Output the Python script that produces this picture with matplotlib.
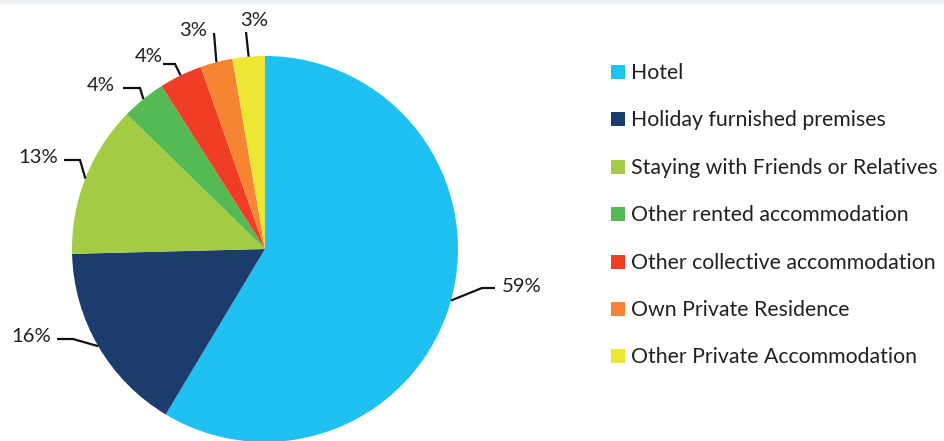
import matplotlib
matplotlib.use("Agg")
import matplotlib.pyplot as plt
from matplotlib.patches import Rectangle
import numpy as np

categories = ["Hotel", "Holiday furnished premises", "Staying with Friends or Relatives",
              "Other rented accommodation", "Other collective accommodation",
              "Own Private Residence", "Other Private Accommodation"]
values = [58.6, 16.0, 12.7, 3.7, 3.6, 2.7, 2.7]
pct_labels = ["59%", "16%", "13%", "4%", "4%", "3%", "3%"]
colors = ["#1EC1F1", "#1B3C6D", "#A3CB44", "#55BA53", "#EF3E25", "#F58532", "#ECE634"]

W, H = 944, 441
FONT = "Lato"
TXT = "#231F20"
FS = 15.3
FS_PCT = 14.6

fig = plt.figure(figsize=(W / 100, H / 100), dpi=100)
ax = fig.add_axes([0, 0, 1, 1])

def py(y):
    return H - y

cx, cy, r = 265, py(249), 193
wedges, _ = ax.pie(values, colors=colors, startangle=90, counterclock=False,
                   center=(cx, cy), radius=r, wedgeprops=dict(linewidth=0))
ax.set_xlim(0, W)
ax.set_ylim(0, H)
ax.set_aspect("equal")
ax.axis("off")

# top light band
fig.patches.append(Rectangle((0, 1 - 3 / H), 1, 3 / H, transform=fig.transFigure,
                             color="#EEF2F5", zorder=0))

# label layout: text x, baseline y (px from top), ha, stub start, elbow
layout = [
    (502, 292, "left",  (495, 288), (482, 288)),
    (51, 342, "right",  (57, 339), (73, 339)),
    (58, 163, "right",  (64, 160), (80, 160)),
    (115, 91, "right",  (123, 88), (140, 88)),
    (163, 62.5, "right", (163, 64), (175, 64)),
    (193, 35.5, "center", (214, 33), (214, 33)),
    (254, 25.5, "center", (246, 32), (246, 32)),
]

for w, lab, (tx, ty, ha, s, e) in zip(wedges, pct_labels, layout):
    mid = np.deg2rad((w.theta1 + w.theta2) / 2)
    ex, ey = cx + r * np.cos(mid), cy + r * np.sin(mid)
    ax.plot([s[0], e[0], ex], [py(s[1]), py(e[1]), ey], color="#111111", lw=1.6,
            solid_capstyle="butt", solid_joinstyle="miter", zorder=3)
    ax.text(tx, py(ty), lab, ha=ha, va="baseline", fontsize=FS_PCT, family=FONT,
            color=TXT)

# legend
row0, step = 72, 47.4
for i, (cat, col) in enumerate(zip(categories, colors)):
    yc = row0 + i * step
    ax.add_patch(Rectangle((611, py(yc + 7)), 14, 14, color=col, lw=0))
    ax.text(631, py(yc + 7), cat, ha="left", va="baseline", fontsize=FS,
            family=FONT, color=TXT)

fig.savefig("out.png", dpi=100)
